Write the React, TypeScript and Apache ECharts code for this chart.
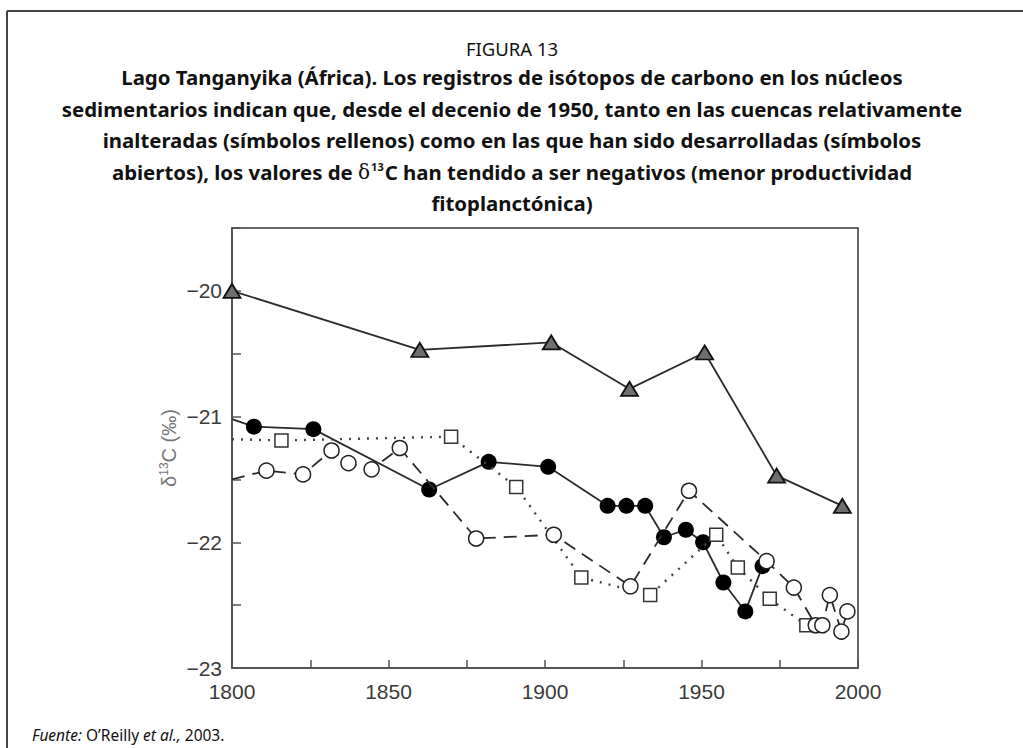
import React, { useEffect, useRef } from "react";
import * as echarts from "echarts";

// Gray filled triangles (solid line)
const triYears = [1800, 1860, 1902, 1927, 1951, 1974, 1995];
const triVals = [-20.0, -20.47, -20.41, -20.78, -20.49, -21.47, -21.71];

// Black filled circles (solid line); first point is the line's entry at the axis
const filledYears = [1800, 1807, 1826, 1863, 1882, 1901, 1920, 1926, 1932, 1938, 1945, 1950.5, 1957, 1964, 1969.5];
const filledVals = [-21.02, -21.08, -21.1, -21.58, -21.36, -21.4, -21.71, -21.71, -21.71, -21.96, -21.9, -22.0, -22.32, -22.55, -22.19];

// Open circles (dashed line)
const openYears = [1800, 1811, 1822.7, 1831.8, 1837.2, 1844.6, 1853.6, 1878, 1902.8, 1927.3, 1946, 1970.8, 1979.5, 1986.5, 1988.6, 1991, 1994.7, 1996.6];
const openVals = [-21.5, -21.43, -21.46, -21.27, -21.37, -21.42, -21.25, -21.97, -21.94, -22.35, -21.59, -22.15, -22.36, -22.66, -22.66, -22.42, -22.71, -22.55];

// Open squares (dotted line)
const squareYears = [1800, 1815.8, 1870, 1890.8, 1911.6, 1933.6, 1954.7, 1961.6, 1971.8, 1983.5];
const squareVals = [-21.18, -21.19, -21.16, -21.56, -22.28, -22.42, -21.94, -22.2, -22.45, -22.66];

const xMin = 1800;
const xMax = 2000;
const yMin = -23;
const yMax = -19.5;

const figureLabel = "FIGURA 13";
const titleLines = [
  "Lago Tanganyika (África). Los registros de isótopos de carbono en los núcleos",
  "sedimentarios indican que, desde el decenio de 1950, tanto en las cuencas relativamente",
  "inalteradas (símbolos rellenos) como en las que han sido desarrolladas (símbolos",
  "abiertos), los valores de {d|δ}{s|13}C han tendido a ser negativos (menor productividad",
  "fitoplanctónica)",
];

function build(years: number[], vals: number[], firstHidden: boolean) {
  return years.map((y, i) =>
    i === 0 && firstHidden ? { value: [y, vals[i]], symbol: "none" } : { value: [y, vals[i]] }
  );
}

export default function App() {
  const ref = useRef<HTMLDivElement>(null);
  useEffect(() => {
    document.body.style.margin = "0";
    const chart = echarts.init(ref.current!, null, { renderer: "svg" });
    const FONT = "'Noto Sans', sans-serif";
    const AX = "'Liberation Sans', Arial, sans-serif";
    const lineTop = 77;
    const lineGap = 31.6;
    const graphic: any[] = [
      { type: "line", shape: { x1: 7, y1: 11, x2: 1023, y2: 11 }, style: { stroke: "#444", lineWidth: 2 } },
      { type: "line", shape: { x1: 7, y1: 11, x2: 7, y2: 748 }, style: { stroke: "#444", lineWidth: 2 } },
      {
        type: "text",
        x: 512,
        y: 48,
        style: { text: figureLabel, font: `400 18.5px ${FONT}`, fill: "#111", textAlign: "center", textVerticalAlign: "middle" },
      },
      ...titleLines.map((t, i) => ({
        type: "text",
        x: 512,
        y: lineTop + i * lineGap,
        style: {
          text: t,
          font: `700 20.4px ${FONT}`,
          fill: "#111",
          textAlign: "center",
          textVerticalAlign: "middle",
          rich: {
            d: { font: `400 20px 'DejaVu Serif', serif`, fill: "#111" },
            s: { font: `700 11px ${FONT}`, fill: "#111", padding: [0, 1, 10, 1] },
          },
        },
      })),
      {
        type: "text",
        x: 32,
        y: 735,
        style: {
          text: "{i|Fuente:} O’Reilly {i|et al.,} 2003.",
          font: `400 15.5px ${FONT}`,
          fill: "#111",
          textAlign: "left",
          textVerticalAlign: "middle",
          rich: { i: { font: `italic 400 15.5px ${FONT}`, fill: "#111" } },
        },
      },
    ];

    const lineColor = "#2a2a2a";
    chart.setOption({
      animation: false,
      backgroundColor: "#fff",
      graphic,
      grid: { left: 232, right: 165, top: 228, bottom: 80, show: true, borderColor: "#333", borderWidth: 1.5, backgroundColor: "transparent" },
      xAxis: {
        type: "value",
        min: xMin,
        max: xMax,
        interval: 25,
        axisLine: { lineStyle: { color: "#555", width: 2 } },
        axisTick: { inside: true, length: 8, lineStyle: { color: "#555", width: 1.5 } },
        splitLine: { show: false },
        axisLabel: {
          formatter: (v: number) => (v % 50 === 0 ? String(v) : ""),
          color: "#3a3a3a",
          fontSize: 21,
          fontFamily: AX,
          margin: 13,
        },
      },
      yAxis: {
        type: "value",
        min: yMin,
        max: yMax,
        interval: 0.5,
        name: "δ{s|13}C (‰)",
        nameLocation: "middle",
        nameGap: 53,
        nameRotate: 90,
        nameMoveOverlap: false,
        nameTextStyle: {
          color: "#777",
          fontSize: 20,
          fontFamily: AX,
          rich: { s: { fontSize: 12, color: "#777", padding: [0, 0, 9, 0], fontFamily: AX } },
        },
        axisLine: { show: true, lineStyle: { color: "#555", width: 2 } },
        axisTick: { show: true, inside: true, length: 9, lineStyle: { color: "#555", width: 1.5 } },
        splitLine: { show: false },
        axisLabel: {
          formatter: (v: number) => (Number.isInteger(v) ? "−" + Math.abs(v) : ""),
          color: "#3a3a3a",
          fontSize: 21,
          fontFamily: AX,
          margin: 10,
        },
      },
      series: [
        {
          type: "line",
          data: build(filledYears, filledVals, true),
          symbol: "circle",
          symbolSize: 16,
          lineStyle: { color: lineColor, width: 1.8 },
          itemStyle: { color: "#000", borderColor: "#000", borderWidth: 0 },
          z: 2,
        },
        {
          type: "line",
          data: build(squareYears, squareVals, true),
          symbol: "rect",
          symbolSize: 13,
          lineStyle: { color: "#444", width: 2.4, type: [2, 7] },
          itemStyle: { color: "#fff", borderColor: "#333", borderWidth: 1.5 },
          z: 3,
        },
        {
          type: "line",
          data: build(openYears, openVals, true),
          symbol: "circle",
          symbolSize: 15,
          lineStyle: { color: lineColor, width: 1.8, type: [13, 8] },
          itemStyle: { color: "#fff", borderColor: "#222", borderWidth: 1.5 },
          z: 4,
        },
        {
          type: "line",
          data: build(triYears, triVals, false),
          symbol: "triangle",
          symbolSize: [17, 14],
          lineStyle: { color: lineColor, width: 1.8 },
          itemStyle: { color: "#6e6e6e", borderColor: "#111", borderWidth: 1.8 },
          z: 5,
        },
      ],
    });
    return () => chart.dispose();
  }, []);
  return <div ref={ref} style={{ position: "absolute", left: 0, top: 0, width: 1023, height: 748 }} />;
}
